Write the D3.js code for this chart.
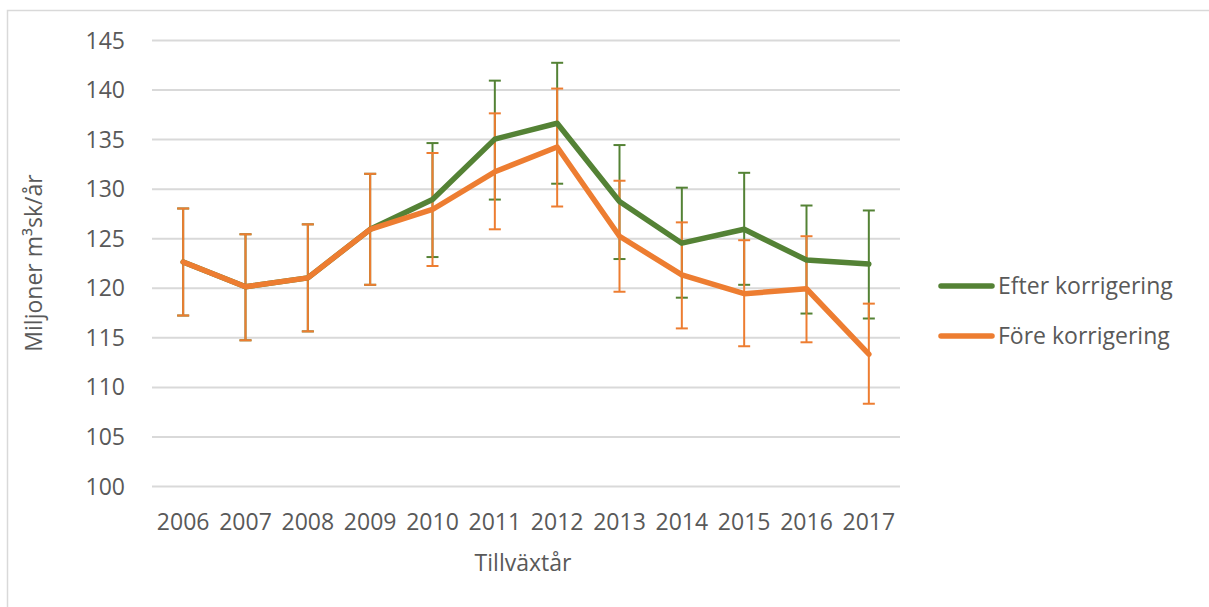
<!DOCTYPE html>
<html>
<head>
<meta charset="utf-8">
<script src="https://cdn.jsdelivr.net/npm/d3@7"></script>
<style>
  body { margin: 0; background: #fff; }
  svg text { font-family: "Open Sans", sans-serif; fill: #595959; }
</style>
</head>
<body>
<svg id="chart"></svg>
<script>
// data
const years = ["2006", "2007", "2008", "2009", "2010", "2011", "2012", "2013", "2014", "2015", "2016", "2017"]

const efterValue = [122.6, 120.1, 121.0, 125.9, 128.9, 135.0, 136.6, 128.7, 124.5, 125.9, 122.8, 122.4]
const efterLow   = [117.2, 114.7, 115.6, 120.3, 123.1, 128.9, 130.5, 122.9, 119.0, 120.3, 117.4, 116.9]
const efterHigh  = [128.0, 125.4, 126.4, 131.5, 134.6, 140.9, 142.7, 134.4, 130.1, 131.6, 128.3, 127.8]

const foreValue = [122.6, 120.1, 121.0, 125.9, 127.9, 131.7, 134.2, 125.2, 121.3, 119.4, 119.9, 113.3]
const foreLow   = [117.2, 114.7, 115.6, 120.3, 122.2, 125.9, 128.2, 119.6, 115.9, 114.1, 114.5, 108.3]
const foreHigh  = [128.0, 125.4, 126.4, 131.5, 133.6, 137.6, 140.1, 130.8, 126.6, 124.8, 125.2, 118.4]

const yTicks = [100, 105, 110, 115, 120, 125, 130, 135, 140, 145]

const seriesNames = ["Efter korrigering", "Före korrigering"]
const GREEN = "#548235"
const ORANGE = "#ED7D31"

const width = 1209, height = 607
const plot = { left: 152, right: 900, top: 40, bottom: 486 }

const svg = d3.select("#chart").attr("width", width).attr("height", height)

// chart area border
svg.append("rect")
  .attr("x", 7.5).attr("y", 10.5)
  .attr("width", 1260).attr("height", 700)
  .attr("fill", "none").attr("stroke", "#d9d9d9").attr("stroke-width", 1.5)

const x = d3.scaleBand().domain(years).range([plot.left, plot.right])
const cx = d => x(d) + x.bandwidth() / 2
const y = d3.scaleLinear().domain([100, 145]).range([plot.bottom, plot.top])

// y axis + gridlines
const yAxisGroup = svg.append("g")
  .attr("transform", `translate(${plot.left},0)`)
  .call(d3.axisLeft(y).tickValues(yTicks).tickSize(-(plot.right - plot.left)).tickPadding(27))
yAxisGroup.select(".domain").remove()
yAxisGroup.selectAll("line").attr("stroke", "#d9d9d9").attr("stroke-width", 2)
yAxisGroup.selectAll("text").style("font-size", "23px").attr("dy", "0.35em")

// x axis
const xAxisGroup = svg.append("g")
  .attr("transform", `translate(0,${plot.bottom})`)
  .call(d3.axisBottom(x).tickSize(0).tickPadding(28))
xAxisGroup.select(".domain").remove()
xAxisGroup.selectAll("text").style("font-size", "23px")

// axis titles
svg.append("text")
  .attr("x", (plot.left + plot.right) / 2 - 3).attr("y", 571)
  .attr("text-anchor", "middle").style("font-size", "23px")
  .text("Tillväxtår")

svg.append("text")
  .attr("transform", `translate(42,${(plot.top + plot.bottom) / 2}) rotate(-90)`)
  .attr("text-anchor", "middle").style("font-size", "23px")
  .text("Miljoner m³sk/år")

// error bars
const drawErrors = (low, high, color) => {
  const g = svg.append("g").attr("stroke", color).attr("stroke-width", 2)
  years.forEach((yr, i) => {
    g.append("line").attr("x1", cx(yr)).attr("x2", cx(yr)).attr("y1", y(low[i])).attr("y2", y(high[i]))
    g.append("line").attr("x1", cx(yr) - 6).attr("x2", cx(yr) + 6).attr("y1", y(low[i])).attr("y2", y(low[i]))
    g.append("line").attr("x1", cx(yr) - 6).attr("x2", cx(yr) + 6).attr("y1", y(high[i])).attr("y2", y(high[i]))
  })
}
drawErrors(efterLow, efterHigh, GREEN)
drawErrors(foreLow, foreHigh, ORANGE)

// lines
const line = d3.line().x((d, i) => cx(years[i])).y(d => y(d))
svg.append("path").datum(efterValue).attr("d", line)
  .attr("fill", "none").attr("stroke", GREEN).attr("stroke-width", 5.5)
  .attr("stroke-linejoin", "round").attr("stroke-linecap", "round")
svg.append("path").datum(foreValue).attr("d", line)
  .attr("fill", "none").attr("stroke", ORANGE).attr("stroke-width", 5.5)
  .attr("stroke-linejoin", "round").attr("stroke-linecap", "round")

// legend
const legend = svg.append("g")
const legendY = [286, 336]
seriesNames.forEach((name, i) => {
  legend.append("line")
    .attr("x1", 941).attr("x2", 992).attr("y1", legendY[i]).attr("y2", legendY[i])
    .attr("stroke", i === 0 ? GREEN : ORANGE).attr("stroke-width", 5.5).attr("stroke-linecap", "round")
  legend.append("text")
    .attr("x", 998).attr("y", legendY[i]).attr("dy", "0.35em")
    .style("font-size", "23px")
    .text(name)
})
</script>
</body>
</html>
